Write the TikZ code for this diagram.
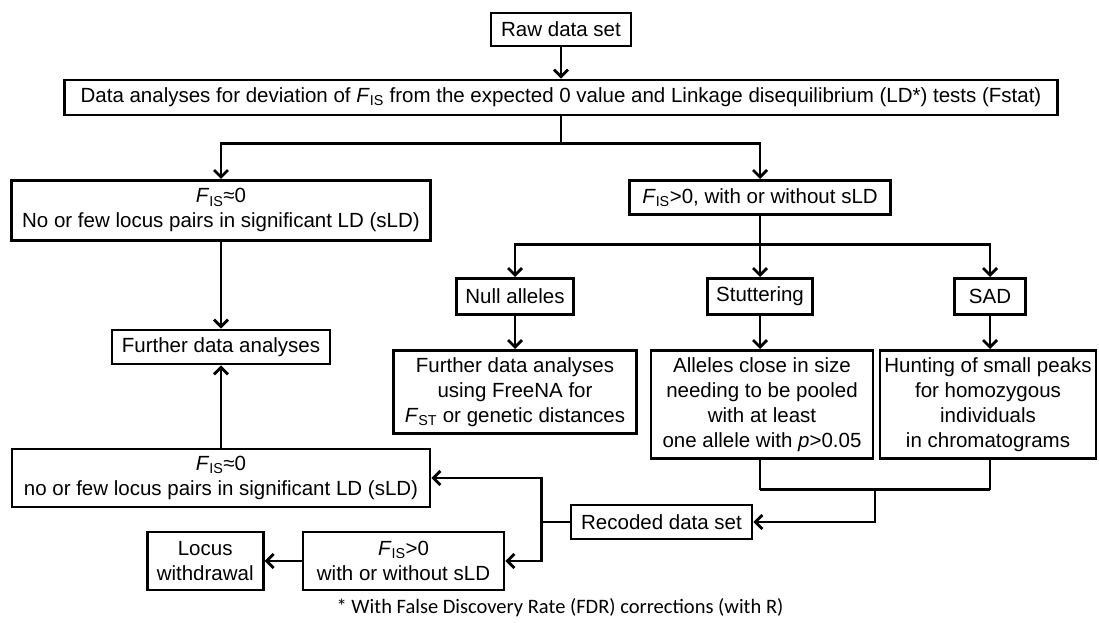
\documentclass[tikz,border=0pt]{standalone}
\usepackage{fontspec}
\setmainfont{Liberation Sans}
\newfontfamily\notefont{Carlito}
\usetikzlibrary{positioning,arrows.meta,calc}
\newcommand{\Fis}{\textit{F}\textsubscript{IS}}
\tikzset{flowbox/.style={draw, line width=2.8pt, align=center, inner sep=1pt, font=\fontsize{20.5}{25}\selectfont},
  flowarrow/.style={->, line width=2.8pt, >={Straight Barb[length=7pt,width=14pt]}},
  flowline/.style={line width=2.8pt}}

\begin{document}
\begin{tikzpicture}[x=1pt, y=1pt]
\useasboundingbox (0,0) rectangle (1099,623);
% top of the chart
\node[flowbox, minimum width=140, minimum height=33] (raw) at (561,593.5) {Raw data set};
\node[flowbox, minimum width=993, minimum height=35] (main) at (561,525.5) {Data analyses for deviation of \Fis{} from the expected 0 value and Linkage disequilibrium (LD*) tests (Fstat)};
\node[flowbox, minimum width=419, minimum height=60, anchor=north] (fiszero) at (221,444) {\Fis{}≈0\\No or few locus pairs in significant LD (sLD)};
\node[flowbox, minimum width=261, minimum height=34, anchor=north] (fispos) at (760,444) {\Fis{}>0, with or without sLD};
\node[flowbox, minimum width=218, minimum height=34] (further) at (221,276) {Further data analyses};
% the three causes
\node[flowbox, minimum width=117, minimum height=36, anchor=north] (null) at (515,346) {Null alleles};
\node[flowbox, minimum width=105, minimum height=36, anchor=north] (stutter) at (760,346) {Stuttering};
\node[flowbox, minimum width=71, minimum height=36, anchor=north] (sad) at (990,346) {SAD};
\node[flowbox, minimum width=243, minimum height=83, anchor=north] (freena) at (515,274) {Further data analyses\\using FreeNA for\\\textit{F}\textsubscript{ST} or genetic distances};
\node[flowbox, minimum width=222, minimum height=108, anchor=north] (pooled) at (762,274) {Alleles close in size\\needing to be pooled\\with at least\\one allele with \textit{p}>0.05};
\node[flowbox, minimum width=216, minimum height=108, anchor=north] (peaks) at (988,274) {Hunting of small peaks\\for homozygous\\individuals\\in chromatograms};
% recoding and second pass
\node[flowbox, minimum width=181, minimum height=34] (recoded) at (661.5,101) {Recoded data set};
\node[flowbox, minimum width=418, minimum height=58] (fiszerob) at (221,145) {\Fis{}≈0\\no or few locus pairs in significant LD (sLD)};
\node[flowbox, minimum width=201, minimum height=58] (fisposb) at (403.5,62) {\Fis{}>0\\with or without sLD};
\node[flowbox, minimum width=116, minimum height=58, left=37 of fisposb] (locus) {Locus\\withdrawal};
\node[font=\notefont\fontsize{20.5}{25}\selectfont] (note) at (560,15) {* With False Discovery Rate (FDR) corrections (with R)};

\draw[flowarrow] (raw) -- (main);
\draw[flowline] (main.south) -- ++(0,-27) coordinate (split);
\draw[flowarrow] (split) -| (fiszero.north);
\draw[flowarrow] (split) -| (fispos.north);
\draw[flowarrow] (fiszero) -- (further);
\draw[flowline] (fispos.south) -- ++(0,-29) coordinate (causes);
\draw[flowarrow] (causes) -| (null.north);
\draw[flowarrow] (causes) -- (stutter.north);
\draw[flowarrow] (causes) -| (sad.north);
\draw[flowarrow] (null) -- (freena);
\draw[flowarrow] (stutter) -- (pooled.north -| stutter.south);
\draw[flowarrow] (sad) -- (peaks.north -| sad.south);
\draw[flowline] (pooled.south -| stutter.south) -- ++(0,-30) coordinate (joinl);
\draw[flowline] (peaks.south -| sad.south) -- ++(0,-30) coordinate (joinr);
\draw[flowline] (joinl) -- (joinr);
\draw[flowarrow] ($(joinl)!0.5!(joinr)$) |- (recoded.east);
\draw[flowline] (recoded.west) -- ++(-28,0) coordinate (back);
\draw[flowarrow] (back) |- (fiszerob.east);
\draw[flowarrow] (back) |- (fisposb.east);
\draw[flowarrow] (fiszerob) -- (further);
\draw[flowarrow] (fisposb) -- (locus);
\end{tikzpicture}
\end{document}
